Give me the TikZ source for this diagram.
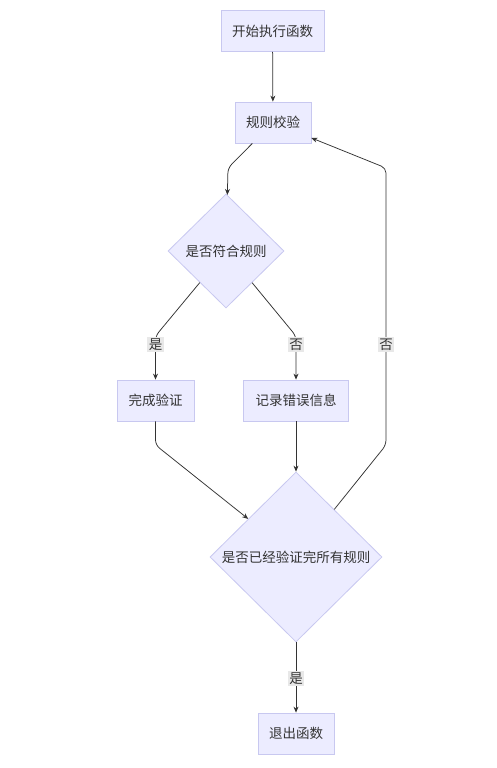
\documentclass[tikz,border=0pt]{standalone}
\usepackage{fontspec}
\newfontfamily\cjk{Noto Sans CJK SC}
\usetikzlibrary{shapes.geometric,arrows.meta}
\definecolor{nodefill}{HTML}{ECECFF}
\definecolor{nodedraw}{HTML}{C8C8F0}
\definecolor{linec}{HTML}{333333}
\definecolor{lblbg}{HTML}{E8E8E8}
\begin{document}
\begin{tikzpicture}[x=1pt,y=-1pt,
  font=\cjk\fontsize{13.5}{16}\selectfont,
  box/.style={draw=nodedraw, fill=nodefill, line width=0.8pt, minimum height=41pt, inner sep=0pt, text=linec},
  dia/.style={diamond, draw=nodedraw, fill=nodefill, line width=0.8pt, inner sep=0pt, text=linec},
  arr/.style={draw=linec, line width=0.75pt, -{Stealth[length=6pt,width=5pt]}, rounded corners=5pt},
  lbl/.style={fill=lblbg, inner sep=1.5pt, text=linec}]
\useasboundingbox[fill=white] (0,0) rectangle (497,768);
\node[box, minimum width=103pt] (n1) at (272.5,31) {开始执行函数};
\node[box, minimum width=76pt] (n2) at (273,122.5) {规则校验};
\node[dia, minimum width=116pt, minimum height=114pt] (d1) at (226,251) {是否符合规则};
\node[box, minimum width=77pt] (n3) at (155.5,400.5) {完成验证};
\node[box, minimum width=105pt] (n4) at (296,400.5) {记录错误信息};
\node[dia, minimum width=172pt, minimum height=170pt] (d2) at (296,557) {是否已经验证完所有规则};
\node[box, minimum width=76pt] (n5) at (296,733.5) {退出函数};
\coordinate (c1) at (228,168);
\coordinate (c2) at (155.5,336);
\coordinate (c6) at (296,336);
\coordinate (c3) at (155.5,445);
\coordinate (c4) at (386,445);
\coordinate (c5) at (386,168);
\draw[arr] (n1) -- (n2);
\draw[arr] (n2) -- (c1) -- (d1);
\draw[arr] (d1) -- (c2) -- (n3);
\draw[arr] (d1) -- (c6) -- (n4);
\draw[arr] (n3) -- (c3) -- (d2);
\draw[arr] (n4) -- (d2);
\draw[arr] (d2) -- (c4) -- (c5) -- (n2);
\draw[arr] (d2) -- (n5);
\node[lbl] (l1) at (155.5,344.5) {是};
\node[lbl] (l2) at (296,344.5) {否};
\node[lbl] (l3) at (386,344.5) {否};
\node[lbl] (l4) at (296,678.5) {是};
\end{tikzpicture}
\end{document}
